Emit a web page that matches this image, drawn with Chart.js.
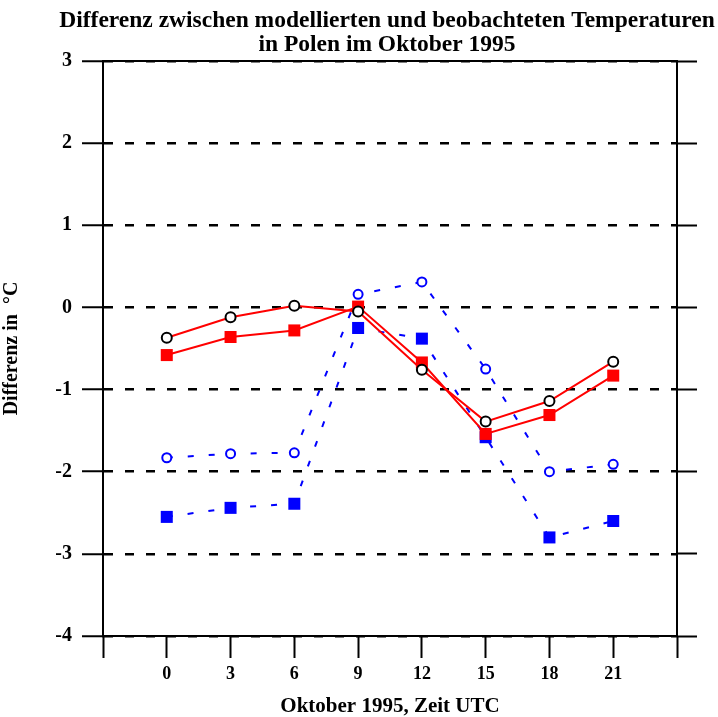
<!DOCTYPE html>
<html>
<head>
<meta charset="utf-8">
<script src="https://cdn.jsdelivr.net/npm/chart.js@4/dist/chart.umd.min.js"></script>
<style>
  body { margin: 0; background: #fff; }
  #wrap { width: 718px; height: 717px; }
</style>
</head>
<body>
<div id="wrap"><canvas id="grafico" width="718" height="717"></canvas></div>
<script>
// Zeit UTC (Stunden)
const stunden = [0, 3, 6, 9, 12, 15, 18, 21];
// schwarze Kreise, rote Linie
const kreiseSchwarz = [-0.37, -0.12, 0.02, -0.05, -0.76, -1.39, -1.14, -0.66];
// rote Quadrate
const quadrateRot = [-0.58, -0.36, -0.28, 0.01, -0.67, -1.54, -1.31, -0.83];
// blaue Kreise, gestrichelt
const kreiseBlau = [-1.83, -1.78, -1.77, 0.16, 0.31, -0.75, -2.0, -1.91];
// blaue Quadrate, gestrichelt
const quadrateBlau = [-2.55, -2.44, -2.39, -0.25, -0.38, -1.58, -2.8, -2.6];

const titelZeilen = ['Differenz zwischen modellierten und beobachteten Temperaturen', 'in Polen im Oktober 1995'];
const yTitel = 'Differenz in  \u00B0C';
const xTitel = 'Oktober 1995, Zeit UTC';

const serif = '"Liberation Serif", "Times New Roman", serif';

function punkte(werte) {
  return stunden.map((h, i) => ({ x: h, y: werte[i] }));
}

const titelPlugin = {
  id: 'titelPlugin',
  afterDraw(chart) {
    const ctx = chart.ctx;
    const mitte = (chart.chartArea.left + chart.chartArea.right) / 2 - 3;
    ctx.save();
    ctx.fillStyle = '#000';
    ctx.font = 'bold 23.5px ' + serif;
    ctx.textAlign = 'center';
    ctx.textBaseline = 'middle';
    ctx.fillText(titelZeilen[0], mitte, 21);
    ctx.fillText(titelZeilen[1], mitte, 45);
    ctx.restore();
  }
};

const ctx = document.getElementById('grafico').getContext('2d');
const grafico = new Chart(ctx, {
  type: 'line',
  data: {
    datasets: [
      {
        data: punkte(kreiseSchwarz),
        borderColor: '#ff0000',
        borderWidth: 2,
        pointStyle: 'circle',
        pointRadius: 5,
        pointBorderWidth: 2,
        pointBorderColor: '#000',
        pointBackgroundColor: '#fff',
        tension: 0
      },
      {
        data: punkte(quadrateRot),
        borderColor: '#ff0000',
        borderWidth: 2,
        pointStyle: 'rect',
        pointRadius: 8.5,
        pointBorderWidth: 0,
        pointBackgroundColor: '#ff0000',
        tension: 0
      },
      {
        data: punkte(kreiseBlau),
        borderColor: '#0000ff',
        borderWidth: 2,
        borderDash: [6, 15],
        pointStyle: 'circle',
        pointRadius: 4.5,
        pointBorderWidth: 2,
        pointBorderColor: '#0000ff',
        pointBackgroundColor: '#fff',
        tension: 0
      },
      {
        data: punkte(quadrateBlau),
        borderColor: '#0000ff',
        borderWidth: 2,
        borderDash: [6, 15],
        pointStyle: 'rect',
        pointRadius: 8.5,
        pointBorderWidth: 0,
        pointBackgroundColor: '#0000ff',
        tension: 0
      }
    ]
  },
  options: {
    responsive: false,
    animation: false,
    layout: { padding: 0 },
    plugins: {
      legend: { display: false },
      title: { display: false },
      tooltip: { enabled: false }
    },
    scales: {
      x: {
        type: 'linear',
        position: 'bottom',
        min: -3,
        max: 24,
        afterFit: (s) => { s.height = 81; },
        ticks: {
          stepSize: 3,
          color: '#000',
          padding: 6,
          maxRotation: 0,
          font: { family: serif, size: 18, weight: 'bold' },
          callback: (v) => (v < 0 || v > 21) ? '' : v
        },
        grid: {
          drawOnChartArea: false,
          drawTicks: true,
          tickLength: 22,
          tickWidth: 2,
          tickColor: '#000'
        },
        border: { display: true, color: '#000', width: 2 },
        title: {
          display: true,
          text: xTitel,
          color: '#000',
          padding: { top: 0, bottom: 0 },
          font: { family: serif, size: 21, weight: 'bold', lineHeight: 1.0 }
        }
      },
      xOben: {
        type: 'linear',
        position: 'top',
        min: -3,
        max: 24,
        afterFit: (s) => { s.height = 61; },
        ticks: { display: false, stepSize: 3 },
        grid: { drawOnChartArea: false, drawTicks: false },
        border: { display: true, color: '#000', width: 2 }
      },
      y: {
        type: 'linear',
        position: 'left',
        min: -4,
        max: 3,
        afterFit: (s) => { s.width = 103; },
        ticks: {
          stepSize: 1,
          color: '#000',
          padding: 10,
          font: { family: serif, size: 20, weight: 'bold' }
        },
        grid: {
          drawOnChartArea: true,
          drawTicks: true,
          tickLength: 21,
          tickWidth: 2,
          tickColor: '#000',
          tickBorderDash: [],
          color: '#000',
          lineWidth: 2.5
        },
        border: { display: true, color: '#000', width: 2, dash: [9, 12] },
        title: {
          display: true,
          text: yTitel,
          color: '#000',
          padding: { top: 0, bottom: 0 },
          font: { family: serif, size: 20, weight: 'bold' }
        }
      },
      yRechts: {
        type: 'linear',
        position: 'right',
        min: -4,
        max: 3,
        afterFit: (s) => { s.width = 41; },
        ticks: { display: false, stepSize: 1 },
        grid: {
          drawOnChartArea: false,
          drawTicks: true,
          tickLength: 20,
          tickWidth: 2,
          tickColor: '#000'
        },
        border: { display: true, color: '#000', width: 2 }
      }
    }
  },
  plugins: [titelPlugin]
});
</script>
</body>
</html>
